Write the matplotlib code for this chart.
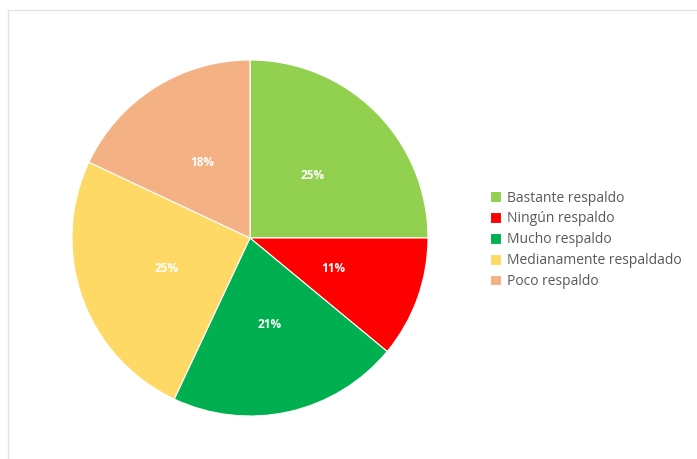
import matplotlib.pyplot as plt
from matplotlib.patches import Rectangle

categories = ['Bastante respaldo', 'Ningún respaldo', 'Mucho respaldo',
              'Medianamente respaldado', 'Poco respaldo']
shares = [25, 11, 21, 25, 18]
colors = ['#92D050', '#FF0000', '#00B050', '#FFD966', '#F4B183']

plt.rcParams['font.family'] = ['Open Sans', 'DejaVu Sans']

W, H = 697, 459
fig = plt.figure(figsize=(W / 100, H / 100), dpi=100)
fig.patch.set_facecolor('white')

# chart area frame
fig.patches.append(Rectangle((8 / W, -0.01), 1.0, 1 - 10 / H + 0.01,
                             transform=fig.transFigure, fill=False,
                             edgecolor='#E3E3E3', linewidth=1.0))

cx, cy, r = 250, 238, 178
ax = fig.add_axes([(cx - r) / W, 1 - (cy + r) / H, 2 * r / W, 2 * r / H])
wedges, texts, autotexts = ax.pie(
    shares, colors=colors, startangle=90, counterclock=False,
    autopct='%d%%', pctdistance=0.5, radius=1.0,
    wedgeprops=dict(edgecolor='white', linewidth=0.8),
    textprops=dict(color='white', fontsize=8.5, fontweight='bold'))
ax.set_xlim(-1, 1)
ax.set_ylim(-1, 1)
ax.set_aspect('equal')
ax.axis('off')

leg = fig.legend(wedges, categories, loc='upper left',
                 bbox_to_anchor=(484 / W, 1 - 185 / H), frameon=False,
                 fontsize=10, handlelength=0.8, handleheight=0.8,
                 handletextpad=0.45, labelspacing=0.42, borderaxespad=0)
for t in leg.get_texts():
    t.set_color('#595959')

fig.savefig('out.png', dpi=100)
